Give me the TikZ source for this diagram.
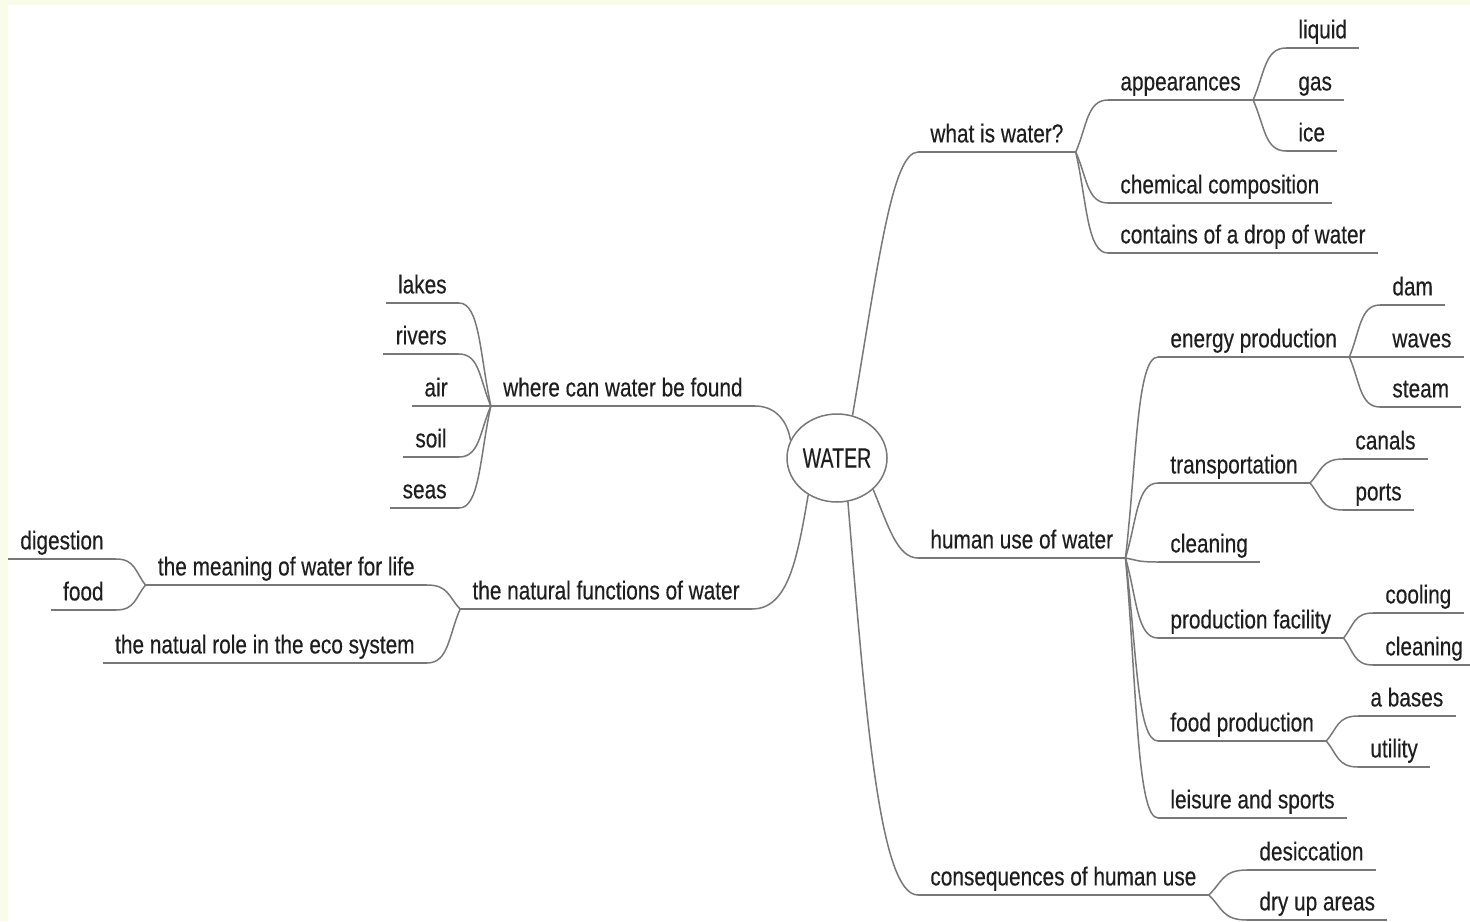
\documentclass[tikz,border=0pt]{standalone}
\usepackage{fontspec}
\setmainfont{Liberation Sans}[FakeStretch=0.80, FakeBold=0.3]
\newfontfamily\wfont{Liberation Sans}[FakeStretch=0.70, FakeBold=0.3]
\usetikzlibrary{calc,shapes.geometric}
\definecolor{cream}{RGB}{249,252,232}
\definecolor{linegray}{RGB}{120,120,120}
\definecolor{txt}{RGB}{30,30,30}
\tikzset{
  topic/.style={font=\fontsize{13}{15}\selectfont, text=txt, inner xsep=6pt, inner ysep=0pt, text height=9.3pt, text depth=4.6pt},
  R/.style={topic, anchor=south west},
  L/.style={topic, anchor=south east},
  ul/.style={draw=linegray, line width=0.75pt},
  conn/.style={draw=linegray, line width=0.75pt},
  br/.style={to path={let \p1=(\tikztostart), \p2=(\tikztotarget) in
     .. controls ({\x1+0.35*(\x2-\x1)},{\y1+0.5*(\y2-\y1)}) and ({\x1+0.35*(\x2-\x1)},{\y2}) .. (\tikztotarget)}},
  center/.style={ellipse, draw=linegray, line width=0.75pt, minimum width=50pt, minimum height=44pt, inner sep=0pt, font=\wfont\fontsize{14}{16}\selectfont, text=txt}
}
\begin{document}
\begin{tikzpicture}[x=0.5pt, y=-0.5pt]
\useasboundingbox (0,0) rectangle (1470,921);
\fill[cream] (0,0) rectangle (1470,921);
\fill[white] (8,5) rectangle (1470,921);

% centre
\node[center] (water) at (837,458) {WATER};

% main branches
\node[R] (what) at (918,152) {what is water?};
\node[R] (human) at (918,558) {human use of water};
\node[R] (conseq) at (918,895) {consequences of human use};
\node[L] (where) at (755,406) {where can water be found};
\node[L] (natural) at (752,609) {the natural functions of water};

% what is water
\node[R] (appear) at (1108,100) {appearances};
\node[R] (chem) at (1108,203) {chemical composition};
\node[R] (contains) at (1108,253) {contains of a drop of water};
\node[R] (liquid) at (1286,48) {liquid};
\node[R] (gas) at (1286,100) {gas};
\node[R] (ice) at (1286,151) {ice};

% human use
\node[R] (energy) at (1158,357) {energy production};
\node[R] (transp) at (1158,483) {transportation};
\node[R] (clean) at (1158,562) {cleaning};
\node[R] (prodfac) at (1158,638) {production facility};
\node[R] (foodprod) at (1158,741) {food production};
\node[R] (leisure) at (1158,818) {leisure and sports};
\node[R] (dam) at (1380,305) {dam};
\node[R] (waves) at (1380,357) {waves};
\node[R] (steam) at (1380,407) {steam};
\node[R] (canals) at (1343,459) {canals};
\node[R] (ports) at (1343,510) {ports};
\node[R] (cooling) at (1373,613) {cooling};
\node[R] (cleantwo) at (1373,665) {cleaning};
\node[R] (abases) at (1358,716) {a bases};
\node[R] (utility) at (1358,767) {utility};

% consequences
\node[R] (desicc) at (1247,870) {desiccation};
\node[R] (dryup) at (1247,920) {dry up areas};

% where
\node[L] (lakes) at (459,303) {lakes};
\node[L] (rivers) at (459,354) {rivers};
\node[L] (air) at (460,406) {air};
\node[L] (soil) at (459,457) {soil};
\node[L] (seas) at (459,508) {seas};

% natural functions
\node[L] (meaning) at (427,585) {the meaning of water for life};
\node[L] (role) at (427,663) {the natual role in the eco system};
\node[L] (digestion) at (116,559) {digestion};
\node[L] (food) at (116,610) {food};

% underlines
\foreach \n in {what,human,conseq,where,natural,appear,chem,contains,liquid,gas,ice,
  energy,transp,clean,prodfac,foodprod,leisure,dam,waves,steam,canals,ports,cooling,cleantwo,
  abases,utility,desicc,dryup,lakes,rivers,air,soil,seas,meaning,role,digestion,food}
  \draw[ul] (\n.south west) -- (\n.south east);

% connectors from the centre
\draw[conn] (water.70) .. controls (878,265) and (892,152) .. (what.south west);
\draw[conn] (water.-41) .. controls (888,525) and (897,558) .. (human.south west);
\draw[conn] (water.-76) .. controls (866,720) and (880,895) .. (conseq.south west);
\draw[conn] (water.159) .. controls (787,420) and (775,406) .. (where.south east);
\draw[conn] (water.-128) .. controls (797,560) and (788,609) .. (natural.south east);

% branch connectors
\foreach \c in {appear,chem,contains} \draw[conn] (what.south east) to[br] (\c.south west);
\foreach \c in {liquid,gas,ice} \draw[conn] (appear.south east) to[br] (\c.south west);
\foreach \c in {energy,transp,clean,prodfac,foodprod,leisure} \draw[conn] (human.south east) to[br] (\c.south west);
\foreach \c in {dam,waves,steam} \draw[conn] (energy.south east) to[br] (\c.south west);
\foreach \c in {canals,ports} \draw[conn] (transp.south east) to[br] (\c.south west);
\foreach \c in {cooling,cleantwo} \draw[conn] (prodfac.south east) to[br] (\c.south west);
\foreach \c in {abases,utility} \draw[conn] (foodprod.south east) to[br] (\c.south west);
\foreach \c in {desicc,dryup} \draw[conn] (conseq.south east) to[br] (\c.south west);
\foreach \c in {lakes,rivers,air,soil,seas} \draw[conn] (where.south west) to[br] (\c.south east);
\foreach \c in {meaning,role} \draw[conn] (natural.south west) to[br] (\c.south east);
\foreach \c in {digestion,food} \draw[conn] (meaning.south west) to[br] (\c.south east);
\end{tikzpicture}
\end{document}
